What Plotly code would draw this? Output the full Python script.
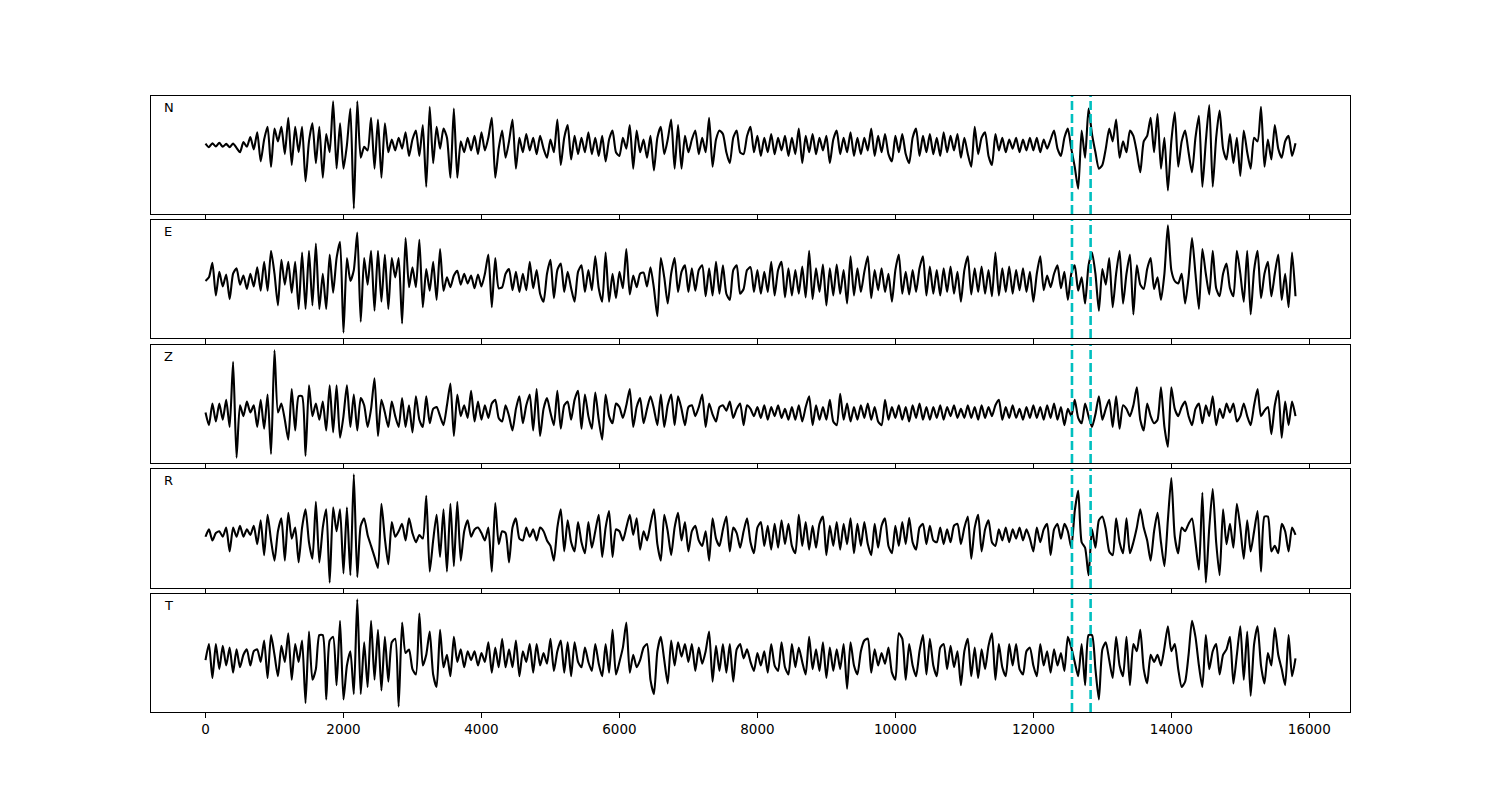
import numpy as np
import plotly.graph_objects as go

# ---------------- data ----------------
SAMPLE_STEP = 50            # time step between samples
PICKS = [12560, 12830]      # dashed vertical markers
CHANNELS = ["N", "E", "Z", "R", "T"]
X_TICKS = [0, 2000, 4000, 6000, 8000, 10000, 12000, 14000, 16000]
X_RANGE = [-790, 16590]

n_vals = [
    4, -6, 5, -4, 6, -5, 3, -6, 4, -8,
    -20, 8, -5, 22, -12, 35, -45, 15, 50, -60,
    45, 10, 50, -25, 75, -55, 50, -20, 50, -100,
    10, 60, -50, 50, -90, 30, -20, 120, -65, 60,
    -65, 0, 100, -175, 120, -35, -5, -15, 75, -65,
    70, -90, 60, -20, 15, -15, 20, -10, 35, -30,
    15, 40, -30, 55, -115, 105, -50, 50, -10, 45,
    20, -90, 100, -90, 10, -20, 20, -15, 25, -25,
    35, -15, 20, 75, -90, -10, 40, -35, 10, 70,
    -65, 20, -20, 30, -15, 20, -25, 25, -10, -35,
    15, -20, 70, -55, 20, 55, -40, 25, -25, 20,
    -20, 35, -25, 20, -30, 25, -45, 15, 40, -20,
    -30, 20, -10, 55, -65, 40, -20, 15, -35, 25,
    -70, 20, 50, -25, 15, 70, -65, 55, -65, 25,
    -20, 15, 40, -25, 20, -20, 75, -60, 15, 40,
    30, -20, -50, 20, 40, -20, -25, 25, 50, -20,
    25, -30, 20, -20, 30, -25, 20, -15, 25, -30,
    20, -25, 45, -50, 25, -20, 30, -25, 20, -15,
    25, -50, 15, 40, -25, 20, -20, 35, -30, 20,
    -25, 20, -15, 45, -30, 25, -20, 30, -25, -45,
    25, -20, 30, -25, -50, 20, 45, -30, 25, -20,
    30, -25, 20, -30, 35, -20, 25, -15, 30, -35,
    20, -25, -60, 50, -25, 20, 35, -30, -55, 30,
    -15, 20, -20, 15, -10, 20, -20, 15, -15, 20,
    -15, 20, -20, 15, -10, 15, 40, -10, -30, 20,
    45, -10, -60, -120, 40, -35, 100, 30, -20, -65,
    -55, -10, 45, 10, 70, -35, 10, -20, 40, 25,
    -20, -75, 10, 25, 75, -20, 85, -65, 20, -125,
    10, 90, -60, 10, 40, -20, -75, 20, 80, -115,
    10, 110, -115, 20, 95, -10, -40, 30, -50, 20,
    -85, 40, -20, -65, 20, 10, 105, -60, 15, -40,
    55, -10, -35, 10, 25, -30, 5,
]

e_vals = [
    0, 10, 50, -40, 25, -15, 18, -50, 20, 35,
    -10, 15, -22, 20, -15, 38, -27, 53, -27, 83,
    20, -67, 58, -10, 53, -32, 53, -77, 78, -77,
    83, -67, 103, -77, 20, -77, 73, -32, 63, 108,
    -142, 63, 0, 30, 133, -112, 63, -10, 83, -82,
    83, -57, 73, -77, 63, 10, 63, -117, 118, -17,
    38, -17, 113, -72, 33, -27, 53, -52, 88, -27,
    10, -17, 15, 28, -10, 20, -7, 15, -20, 18,
    -15, 20, 73, -72, 63, -20, -17, 20, 33, -25,
    25, -30, 20, -25, 53, -20, 30, -35, -57, 20,
    58, -47, 30, 48, -30, 25, -20, -57, 25, 43,
    -30, 30, -25, 68, -20, -57, 78, -57, 20, -47,
    25, -20, 88, -37, 15, -17, 20, 23, -15, 38,
    -20, -97, 63, 10, -62, 20, 63, -30, 25, 43,
    -30, 35, -27, 30, 43, -42, 35, -40, 53, -35,
    43, -35, -52, 30, 43, -35, -22, 30, 38, -30,
    30, -35, 25, -30, 53, -40, 30, 53, -45, 35,
    -40, 30, -35, 40, -45, 83, -50, 35, -30, 45,
    -67, 35, -40, 45, -35, 30, -62, 68, -40, 35,
    -30, 25, 68, -47, 30, -25, 35, -30, 20, -57,
    30, 73, -35, 25, -37, 30, -30, 35, 68, -40,
    40, -35, 30, -40, 35, -30, 40, -35, 25, -57,
    30, 68, -37, 35, -30, 40, -35, 30, -42, 78,
    -40, 35, -30, 40, -35, 30, -25, 35, -30, 25,
    -57, 20, 68, -25, 15, -17, 20, 43, -20, 25,
    -52, 20, 43, -27, 10, -62, 43, 78, 20, -82,
    33, -10, 63, -72, 20, 83, -62, 20, 73, -92,
    43, -10, -22, 33, 63, -22, 10, -52, 20, 153,
    30, 0, -7, 20, -62, 10, 118, 20, -77, 88,
    20, -37, 83, -20, -42, 20, 48, -20, -42, 83,
    20, -57, 83, -92, 30, 83, -47, 20, 53, -42,
    20, 73, -52, 20, -72, 78, -42,
]

z_vals = [
    0, -35, 25, -25, 25, -20, 35, -40, 140, -125,
    20, -10, 30, 0, 20, -40, 35, -45, 50, -115,
    172, 0, 25, -20, -75, 65, -50, 45, 45, -120,
    75, -10, 25, -20, 30, -50, 75, -55, 75, -70,
    -10, 75, -40, 50, -50, 40, 20, -40, 10, 95,
    -65, 35, 0, -40, 30, -10, -40, 40, -40, 20,
    -55, 45, -20, -40, 45, -30, 10, 15, -10, -35,
    20, 80, -65, 50, -10, 20, -15, 60, -25, 30,
    -20, 20, -15, 25, 35, -15, -25, 20, -10, -50,
    10, 45, -30, 20, 50, -50, 65, -65, 10, 40,
    0, -35, 60, -45, 20, 30, -20, 35, 60, -45,
    50, -10, -45, 55, -20, -75, 50, -10, -30, 25,
    15, -15, 20, 65, -40, 15, 40, -30, 10, 45,
    10, -35, 50, -40, 20, 50, -35, 45, 10, -35,
    15, 20, -10, 15, 50, -40, 25, -5, -25, 15,
    20, 5, 30, -15, 10, 25, -35, 20, 10, -10,
    15, -15, 20, -20, 15, -10, 20, -15, 10, -20,
    15, -20, 20, -25, 15, 45, -35, 20, -20, 15,
    -20, 35, -25, -35, 52, -20, 25, -25, 15, -20,
    20, -15, 25, -20, 15, -25, -35, 35, -20, 15,
    -15, 20, -20, 15, -25, 20, -15, 25, -20, 15,
    -20, 15, -15, 20, -20, 15, -10, 20, -15, 10,
    -15, 20, -15, 15, -20, 20, -15, 15, -10, 20,
    35, -20, 15, -15, 20, -15, 10, -20, 15, -15,
    20, -15, 15, -20, 20, -15, 25, -20, 15, -35,
    10, -10, 35, -15, -30, 25, -10, -40, -5, 45,
    -20, 10, 35, -40, 45, -45, 20, 10, -10, 20,
    70, -20, -50, 25, -10, -30, -20, 70, -40, -95,
    70, 10, -10, 15, 30, -10, -35, 10, 25, -30,
    20, -10, 45, -35, 10, -15, 25, 0, 25, -25,
    -10, 25, -10, -35, 20, 65, -10, 5, 15, -60,
    20, 60, -70, 30, -35, 30, -10,
]

r_vals = [
    -5, 15, -15, 5, 10, -5, 20, -45, 20, -5,
    25, -5, 15, 0, 25, -25, 40, -55, 55, -15,
    -70, 10, 45, -70, 60, -10, 20, -75, 20, 70,
    -20, -65, 90, -75, 20, 70, -130, 75, 10, 70,
    -105, 75, -110, 165, -115, 25, 45, 0, -30, -60,
    -90, 85, -10, -80, 35, -5, 10, 30, -15, 45,
    5, -20, 0, -10, 107, -100, -15, 55, -60, 70,
    -100, 85, -85, 90, -70, 10, 40, -5, 15, 20,
    5, -15, 20, -100, 87, -25, 10, 5, -75, 20,
    45, -10, -15, 20, -5, 15, -15, 20, 10, -15,
    -30, -70, 20, 70, -45, 40, -20, -45, 35, -20,
    -50, 35, -35, 10, 55, -60, 20, 65, -60, 15,
    10, -15, 20, 55, 0, 45, -40, 10, -15, 30,
    70, -25, -70, 55, 10, -55, 20, 60, -15, 35,
    -45, 10, 25, -15, -30, 10, -70, 45, -10, -30,
    15, 50, -45, 20, 5, -35, 10, 45, -20, -50,
    20, 35, -30, 25, -40, 30, -35, 40, -25, 30,
    -30, -50, 55, -30, 35, -40, 25, -35, 30, 50,
    -55, 25, -30, 35, -40, 30, -25, 45, -50, 30,
    -30, 35, -25, -55, 30, -35, 25, 45, -30, -50,
    25, -30, 35, -25, 47, -20, -40, 20, 30, -25,
    25, -15, -20, 20, -25, 15, -20, 25, 30, -25,
    20, 50, -65, 20, 55, -45, 15, 40, -20, -30,
    15, -15, 20, -20, 15, -10, 20, -15, 15, -10,
    -45, 20, -20, 15, 30, -55, 15, 30, -10, 30,
    10, -35, 65, 120, -20, -35, -110, 15, -35, 40,
    50, 15, -45, -55, 45, -20, -50, 45, -50, -20,
    20, 70, 20, -15, -70, 10, 60, -20, -85, 40,
    155, -5, -50, 20, 10, 30, 45, -20, -95, 115,
    -130, 20, 125, -20, -110, 70, -25, 30, -35, 85,
    20, -65, 40, -45, 10, 65, -100, 50, 50, -45,
    -30, -50, 30, 10, -45, 20, 0,
]

t_vals = [
    -5, 40, -55, 40, -30, 35, -20, 30, -40, 25,
    -25, 10, 25, -20, 20, 25, -10, 50, -55, 65,
    10, -50, 35, -10, 70, -60, 40, -10, 50, -125,
    75, -60, -30, 65, 65, -115, 50, 60, -75, 105,
    -115, -20, 20, -100, 165, -100, 45, -80, 105, -60,
    80, -90, 60, -65, 45, 55, -135, 100, 15, 25,
    -30, -45, 125, -20, 10, 75, -45, -80, 80, -25,
    10, -50, 60, -10, 25, -25, 20, -5, 20, -20,
    15, -10, 45, -40, 30, -25, 55, -25, 25, -25,
    50, -50, 20, -10, 40, -40, 40, -20, 15, -15,
    55, -35, 20, 50, -40, 45, -50, 45, -10, -25,
    30, -10, -35, 40, -15, -50, 40, -40, 80, -45,
    -10, 30, 100, -40, 10, -25, -5, 30, 40, -60,
    -100, 20, 60, -5, -70, 50, -20, 45, 5, 40,
    -10, 40, -35, 30, -15, 20, 75, -65, 35, -35,
    40, -40, 40, -65, 25, 40, 0, 25, -10, -35,
    15, -20, 20, -40, 40, -20, -35, 45, -25, -45,
    40, -25, 30, -10, -45, 60, -30, 25, -35, 45,
    -55, 30, -35, 25, -30, 40, -85, 45, -20, -45,
    20, 50, 55, -40, 25, -20, 15, -15, 30, -40,
    -60, 70, 55, -60, 40, -20, -50, 20, 65, -45,
    55, -20, -50, 30, 40, -30, 35, -25, 20, -75,
    20, 55, -50, 30, -55, 25, -30, 35, 70, -60,
    40, -25, -50, 40, -20, 40, -30, -45, 20, 30,
    -20, -50, 40, -20, 20, -40, 25, -20, 15, -35,
    60, 30, -10, -50, 40, -75, 65, 65, -30, -115,
    25, 45, -5, -55, 60, -20, -50, 60, -75, 40,
    20, 80, -30, -70, 10, -10, 10, -20, 30, 90,
    20, 40, -30, -80, -65, 10, 105, 60, -20, -80,
    65, -30, 20, 40, -45, 10, 25, 60, -70, 10,
    90, -60, 75, -105, 40, 90, -20, -70, 15, -20,
    85, 10, -30, -75, 65, -50, 0,
]

SERIES = [n_vals, e_vals, z_vals, r_vals, t_vals]

# ---------------- layout (pixel geometry of the panels) ----------------
W, H = 1500, 800
LEFT_PX, RIGHT_PX = 151, 1350
PANEL_PX = [(96, 214), (220, 338), (345, 463), (469, 588), (594, 712)]
FONT = "DejaVu Sans"

fig = go.Figure()
layout = dict(
    width=W, height=H,
    margin=dict(l=0, r=0, t=0, b=0),
    paper_bgcolor="white", plot_bgcolor="white",
    showlegend=False,
    font=dict(family=FONT, color="black", size=14),
)
shapes = []
annotations = []

for k, (name, vals) in enumerate(zip(CHANNELS, SERIES)):
    sfx = "" if k == 0 else str(k + 1)
    xa, ya = "x" + sfx, "y" + sfx
    times = np.arange(len(vals)) * SAMPLE_STEP
    fig.add_trace(go.Scatter(
        x=times, y=vals, mode="lines",
        line=dict(color="black", width=2.1, shape="spline", smoothing=0.6),
        xaxis=xa, yaxis=ya, hoverinfo="skip",
    ))
    lo, hi = min(vals), max(vals)
    pad = 0.05 * (hi - lo)
    top, bot = PANEL_PX[k]
    layout["xaxis" + sfx] = dict(
        domain=[LEFT_PX / W, RIGHT_PX / W], range=X_RANGE, anchor=ya,
        showline=True, mirror=True, linecolor="black", linewidth=1,
        ticks="outside", ticklen=5, tickwidth=1, tickcolor="black",
        tickvals=X_TICKS, ticktext=[str(v) for v in X_TICKS],
        showticklabels=(k == len(CHANNELS) - 1),
        tickfont=dict(family=FONT, size=13.5, color="black"),
        showgrid=False, zeroline=False,
    )
    layout["yaxis" + sfx] = dict(
        domain=[1 - bot / H, 1 - top / H], range=[lo - pad, hi + pad], anchor=xa,
        showline=True, mirror=True, linecolor="black", linewidth=1,
        ticks="", showticklabels=False, showgrid=False, zeroline=False,
    )
    for p in PICKS:
        shapes.append(dict(
            type="line", xref=xa, yref=ya + " domain", x0=p, x1=p, y0=0, y1=1,
            line=dict(color="#00bfbf", width=2.6, dash="9px,4px"), layer="above",
        ))
    annotations.append(dict(
        text=name, xref=xa + " domain", yref=ya + " domain", x=0.0095, y=0.9,
        xanchor="left", yanchor="middle", showarrow=False,
        font=dict(family=FONT, size=13, color="black"),
    ))

layout["shapes"] = shapes
layout["annotations"] = annotations
fig.update_layout(**layout)
fig.write_html(
    "out.html",
    config={"displayModeBar": False},
    post_script="document.body.style.margin='0';document.body.style.padding='0';",
)
